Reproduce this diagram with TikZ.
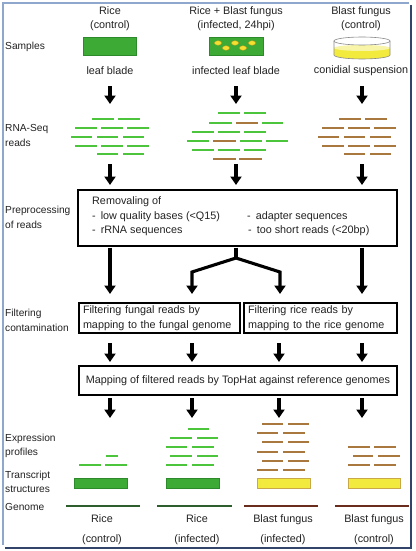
\documentclass[tikz,border=0pt]{standalone}
\usepackage{fontspec}
\setmainfont{Liberation Sans}
\usetikzlibrary{arrows.meta}
\definecolor{readg}{HTML}{4CC43C}
\definecolor{readb}{HTML}{A8783E}
\definecolor{leafg}{HTML}{3DAA35}
\definecolor{leafb}{HTML}{2C8A2A}
\definecolor{yfill}{HTML}{F2EA3C}
\definecolor{ylight}{HTML}{F8F4A8}
\definecolor{yborder}{HTML}{C8A848}
\definecolor{spot}{HTML}{F4E030}
\definecolor{spotb}{HTML}{B89A20}
\definecolor{gdark}{HTML}{2E5E2E}
\definecolor{bdark}{HTML}{6A2C1C}
\definecolor{frameL}{HTML}{8FA7CC}
\definecolor{frameD}{HTML}{33446A}
\definecolor{txt}{HTML}{222222}
\definecolor{dishc}{HTML}{8A8A8A}
\begin{document}
\begin{tikzpicture}[x=1pt,y=-1pt,
  font=\fontsize{10.8}{14.5}\selectfont, text=txt,
  arr/.style={line width=3.1pt, line join=miter, -{Triangle[width=11pt,length=8.5pt]}},
  rg/.style={readg, line width=1.5pt},
  rb/.style={readb, line width=1.5pt},
  lbl/.style={anchor=west, align=left, inner sep=0pt, font=\fontsize{10.2}{14.5}\selectfont},
  ctr/.style={align=center, inner sep=0pt},
  ltx/.style={anchor=west, inner sep=0pt},
  box/.style={draw=black, line width=1.6pt, inner sep=0pt},
  greenrect/.style={draw=leafb, fill=leafg, line width=0.8pt, inner sep=0pt, minimum height=10pt},
  yellowrect/.style={draw=yborder, fill=yfill, line width=0.8pt, inner sep=0pt, minimum height=10pt},
  gline/.style={gdark, line width=2.2pt},
  bline/.style={bdark, line width=2.2pt},
  bottomlbl/.style={align=center, inner sep=0pt, font=\fontsize{10.8}{20}\selectfont},
]
\useasboundingbox (0,0) rectangle (415,551);
\fill[white] (0,0) rectangle (415,551);

% frame
\draw[frameL, line width=2pt] (3,545) -- (3,3) -- (409,3);
\draw[frameD, line width=2.4pt] (411,5) -- (411,548) -- (5,548);

% column titles
\node[ctr] (t1) at (110,18.5) {Rice\\(control)};
\node[ctr] (t2) at (236,18.5) {Rice + Blast fungus\\(infected, 24hpi)};
\node[ctr] (t3) at (361,18.5) {Blast fungus\\(control)};

% left labels
\node[lbl] (lsamp) at (5,47) {Samples};
\node[lbl] (lrna) at (5,135.5) {RNA-Seq\\reads};
\node[lbl] (lpre) at (5,217.5) {Preprocessing\\of reads};
\node[lbl] (lfil) at (5,320.5) {Filtering\\contamination};
\node[lbl] (lexp) at (5,446) {Expression\\profiles};
\node[lbl] (ltra) at (5,482) {Transcript\\structures};
\node[lbl] (lgen) at (5,507) {Genome};

% samples
\node[greenrect, minimum width=53pt, minimum height=18pt] (leaf1) at (109.5,46) {};
\node[greenrect, minimum width=54pt, minimum height=18pt] (leaf2) at (236,46) {};
\foreach \px/\py in {218/43,226/48,235/43,243/48,252/43}
  \draw[spotb, fill=spot, line width=0.4pt] (\px,\py) ellipse [x radius=3.6, y radius=2.3];
% petri dish
\fill[yfill] (334,48) -- (334,55) arc[start angle=180,end angle=0,x radius=28,y radius=4] -- (390,48) -- cycle;
\fill[ylight] (362,48) ellipse [x radius=28, y radius=3];
\draw[dishc, line width=0.6pt] (362,41) ellipse [x radius=28, y radius=4];
\draw[dishc, line width=0.6pt] (334,41) -- (334,55) arc[start angle=180,end angle=0,x radius=28,y radius=4] -- (390,41);

\node[ctr] (s1) at (110,71) {leaf blade};
\node[ctr] (s2) at (236,71) {infected leaf blade};
\node[ctr] (s3) at (361,71) {conidial suspension};

% arrows samples -> reads
\foreach \ax [count=\i] in {110,236,362} {
  \coordinate (aS\i) at (\ax,86);
  \coordinate (aE\i) at (\ax,104);
  \draw[arr] (aS\i) -- (aE\i);
}

% RNA-seq reads: left (green)
\foreach \xa/\xb/\yy in {92/114/119,118/140/119,
  75/97/128,101/123/128,127/149/128,
  71/92/137,97/118/137,123/144/137,
  75/97/146,101/123/146,127/149/146,
  97/118/154,123/144/154}
  \draw[rg] (\xa,\yy) -- (\xb,\yy);
% right (brown)
\foreach \xa/\xb/\yy in {92/114/119,118/140/119,
  75/97/128,101/123/128,127/149/128,
  71/92/137,97/118/137,123/144/137,
  75/97/146,101/123/146,127/149/146,
  97/118/154,123/144/154}
  \draw[rb] (\xa+247,\yy) -- (\xb+247,\yy);
% middle mixed
\foreach \xa/\xb/\yy in {218/240/113,244/266/113,
  209/232/123,262/283/123,
  192/214/132,218/240/132,244/266/132,
  187/209/141,240/262/141,266/288/141,
  192/214/150,218/240/150,244/266/150}
  \draw[rg] (\xa,\yy) -- (\xb,\yy);
\foreach \xa/\xb/\yy in {236/258/123,213/236/141,213/236/159,239/262/159}
  \draw[rb] (\xa,\yy) -- (\xb,\yy);

% arrows reads -> preprocessing
\foreach \ax [count=\i] in {110,236,362} {
  \coordinate (bS\i) at (\ax,164);
  \coordinate (bE\i) at (\ax,185);
  \draw[arr] (bS\i) -- (bE\i);
}

% preprocessing box
\node[box, minimum width=319pt, minimum height=56pt] (prep) at (237.5,218) {};
\node[ltx] (p0) at (92,202) {Removaling of};
\node[ltx] (p1) at (92,217) {-\hspace{5pt}low quality bases (<Q15)};
\node[ltx] (p2) at (92,231) {-\hspace{5pt}rRNA sequences};
\node[ltx] (p3) at (247,217) {-\hspace{5pt}adapter sequences};
\node[ltx] (p4) at (248,231) {-\hspace{5pt}too short reads (<20bp)};

% arrows preprocessing -> filtering
\coordinate (cS1) at (110,247.5);
\coordinate (cE1) at (110,294);
\coordinate (cS4) at (362,247.5);
\coordinate (cE4) at (362,294);
\coordinate (fork) at (236,247.5);
\coordinate (forkJ) at (236,258);
\coordinate (fL) at (192,272);
\coordinate (fR) at (280,272);
\coordinate (cE2) at (192,294);
\coordinate (cE3) at (280,294);
\draw[arr] (cS1) -- (cE1);
\draw[arr] (cS4) -- (cE4);
\draw[line width=3.1pt] (fork) -- (forkJ);
\draw[arr] (forkJ) -- (fL) -- (cE2);
\draw[arr] (forkJ) -- (fR) -- (cE3);

% filtering boxes
\node[box, minimum width=161pt, minimum height=30pt, text width=153pt, align=left, inner xsep=4pt] (filtF) at (159.5,318) {Filtering fungal reads by\\mapping to the fungal genome};
\node[box, minimum width=153pt, minimum height=30pt, text width=145pt, align=left, inner xsep=4pt] (filtR) at (320.5,318) {Filtering rice reads by\\mapping to the rice genome};

% arrows filtering -> mapping
\foreach \ax [count=\i] in {110,192,279,362} {
  \coordinate (dS\i) at (\ax,343);
  \coordinate (dE\i) at (\ax,362);
  \draw[arr] (dS\i) -- (dE\i);
}

% mapping box
\node[box, minimum width=318pt, minimum height=29pt] (mapb) at (238,380.5) {Mapping of filtered reads by TopHat against reference genomes};

% arrows mapping -> profiles
\foreach \ax [count=\i] in {110,192,279,362} {
  \coordinate (eS\i) at (\ax,398);
  \coordinate (eE\i) at (\ax,418);
  \draw[arr] (eS\i) -- (eE\i);
}

% expression profiles
\foreach \xa/\xb/\yy in {106/118/456,79/101/465,105/127/465}
  \draw[rg] (\xa,\yy) -- (\xb,\yy);
\foreach \xa/\xb/\yy in {188/209/429,170/192/438,197/218/438,
  166/187/447,192/214/447,170/192/456,197/218/456,166/187/465,192/214/465}
  \draw[rg] (\xa,\yy) -- (\xb,\yy);
\foreach \xa/\xb/\yy in {262/283/424,288/309/424,257/278/433,283/305/433,
  262/283/442,288/309/442,257/278/452,283/305/452,
  262/283/461,288/309/461,257/278/470,283/305/470}
  \draw[rb] (\xa,\yy) -- (\xb,\yy);
\foreach \xa/\xb/\yy in {348/370/447,374/396/447,353/373/456,378/400/456,348/370/465,374/396/465}
  \draw[rb] (\xa,\yy) -- (\xb,\yy);

% transcript structures
\node[greenrect, minimum width=53pt] (tr1) at (100.5,483) {};
\node[greenrect, minimum width=53pt] (tr2) at (192.5,483) {};
\node[yellowrect, minimum width=53pt] (tr3) at (283.5,483) {};
\node[yellowrect, minimum width=52pt] (tr4) at (374,483) {};

% genome
\draw[gline] (66,506) -- (140,506);
\draw[gline] (157,506) -- (232,506);
\draw[bline] (244,506) -- (318,506);
\draw[bline] (335,506) -- (409,506);

% bottom labels
\node[bottomlbl] (b1) at (102,530) {Rice\\(control)};
\node[bottomlbl] (b2) at (197,530) {Rice\\(infected)};
\node[bottomlbl] (b3) at (283,530) {Blast fungus\\(infected)};
\node[bottomlbl] (b4) at (374,530) {Blast fungus\\(control)};
\end{tikzpicture}
\end{document}
